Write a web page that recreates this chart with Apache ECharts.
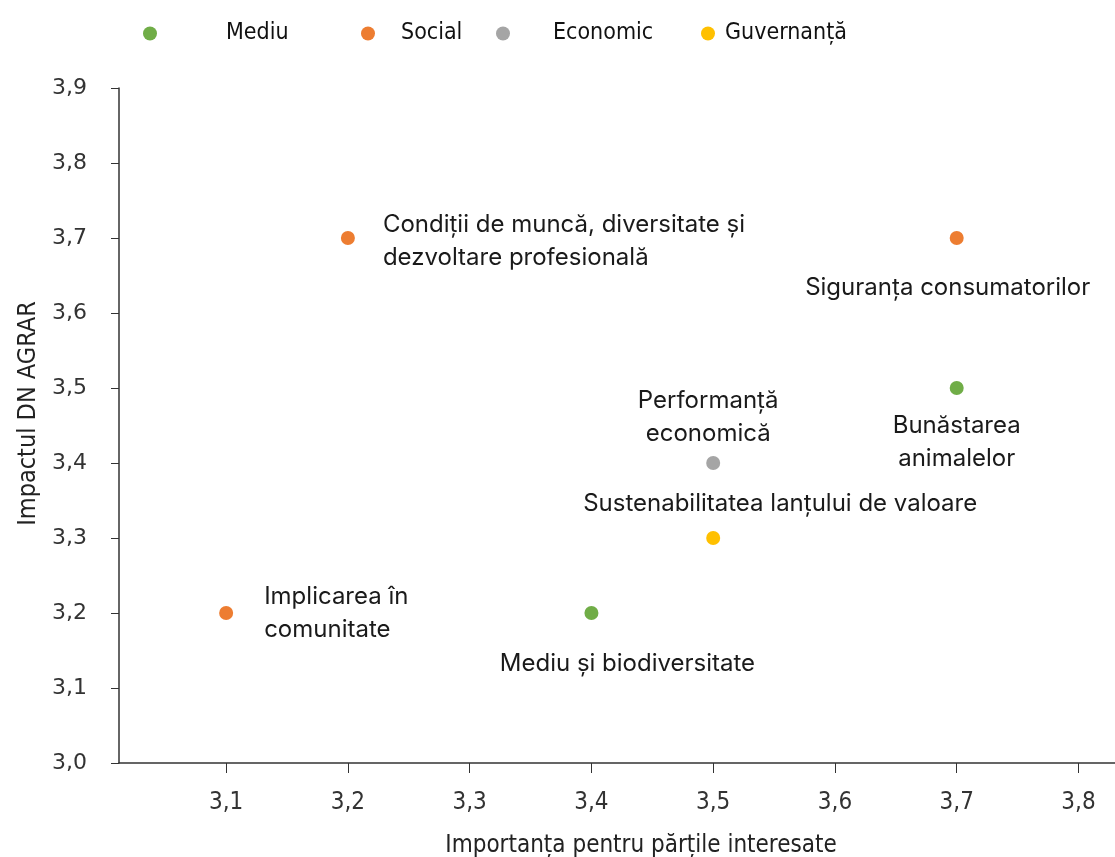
<!DOCTYPE html>
<html>
<head>
<meta charset="utf-8">
<script src="https://cdn.jsdelivr.net/npm/echarts@6/dist/echarts.min.js"></script>
<style>html,body{margin:0;padding:0;background:#fff}#c{width:1115px;height:857px}</style>
</head>
<body>
<div id="c"></div>
<script>
// ---- data ----
const seriesNames = ['Mediu', 'Social', 'Economic', 'Guvernanță'];
const mediuPoints = [[3.7, 3.5, 'Bunăstarea\nanimalelor'], [3.4, 3.2, 'Mediu și biodiversitate']];
const socialPoints = [[3.2, 3.7, 'Condiții de muncă, diversitate și\ndezvoltare profesională'], [3.7, 3.7, 'Siguranța consumatorilor'], [3.1, 3.2, 'Implicarea în\ncomunitate']];
const economicPoints = [[3.5, 3.4, 'Performanță\neconomică']];
const guvernantaPoints = [[3.5, 3.3, 'Sustenabilitatea lanțului de valoare']];
const xTicks = [3.1, 3.2, 3.3, 3.4, 3.5, 3.6, 3.7, 3.8];
const xTitle = 'Importanța pentru părțile interesate';
const yTitle = 'Impactul DN AGRAR';

// ---- styles ----
const colors = ['#70AD47', '#ED7D31', '#A5A5A5', '#FFC000'];
const labelFont = 'Inter, Roboto, sans-serif';
const narrowFont = '"DejaVu Sans Condensed", "Liberation Sans Narrow", sans-serif';
const labelLayout = {
  'Bunăstarea\nanimalelor': {position: 'bottom', distance: 14, offset: [0, 0], align: 'center'},
  'Mediu și biodiversitate': {position: 'bottom', distance: 27, offset: [36, 0], align: 'center'},
  'Condiții de muncă, diversitate și\ndezvoltare profesională': {position: 'right', distance: 28, offset: [0, 3], align: 'left'},
  'Siguranța consumatorilor': {position: 'bottom', distance: 26, offset: [-9, 0], align: 'center'},
  'Implicarea în\ncomunitate': {position: 'right', distance: 31, offset: [0, 0], align: 'left'},
  'Performanță\neconomică': {position: 'top', distance: 6, offset: [-5, 0], align: 'center'},
  'Sustenabilitatea lanțului de valoare': {position: 'top', distance: 11, offset: [67, 0], align: 'center'}
};
const allPoints = [mediuPoints, socialPoints, economicPoints, guvernantaPoints];

const series = seriesNames.map((name, i) => ({
  name: name,
  type: 'scatter',
  symbolSize: 14,
  itemStyle: {color: colors[i], opacity: 1},
  data: allPoints[i].map(p => ({
    value: [p[0], p[1]],
    label: Object.assign({
      show: true,
      formatter: p[2],
      color: '#1a1a1a',
      fontFamily: labelFont,
      fontSize: 24,
      lineHeight: 33
    }, labelLayout[p[2]])
  }))
}));

const legendLeft = [138, 356, 491, 696];
const legendPad = [64, 21, 38, 5];
const legends = seriesNames.map((name, i) => ({
  data: [name],
  left: legendLeft[i],
  top: 17,
  icon: 'circle',
  itemWidth: 14,
  itemHeight: 14,
  selectedMode: false,
  textStyle: {fontFamily: narrowFont, fontSize: 23, color: '#111', padding: [0, 0, 0, legendPad[i]]}
}));

const chart = echarts.init(document.getElementById('c'));
chart.setOption({
  animation: false,
  backgroundColor: '#fff',
  legend: legends,
  grid: {left: 119, right: 0, top: 88, bottom: 94, containLabel: false, outerBoundsMode: 'none'},
  xAxis: {
    type: 'value',
    min: 3.012,
    max: 3.83,
    name: xTitle,
    nameLocation: 'middle',
    nameGap: 71,
    nameTextStyle: {fontFamily: narrowFont, fontSize: 24, color: '#222', padding: [0, 0, 0, 48]},
    splitLine: {show: false},
    axisLine: {lineStyle: {color: '#333', width: 1.5}},
    axisTick: {show: true, customValues: xTicks, length: 10, lineStyle: {color: '#333'}},
    axisLabel: {customValues: xTicks, formatter: v => v.toFixed(1).replace('.', ','), fontFamily: narrowFont, fontSize: 24, color: '#333', margin: 28}
  },
  yAxis: {
    type: 'value',
    min: 3.0,
    max: 3.9,
    interval: 0.1,
    name: yTitle,
    nameLocation: 'middle',
    nameGap: 70,
    nameTextStyle: {fontFamily: narrowFont, fontSize: 25, color: '#222', padding: [0, 0, 0, 24]},
    splitLine: {show: false},
    axisLine: {show: true, lineStyle: {color: '#333', width: 1.5}},
    axisTick: {show: true, length: 8, lineStyle: {color: '#333'}},
    axisLabel: {formatter: v => v.toFixed(1).replace('.', ','), fontFamily: 'DejaVu Sans, sans-serif', fontSize: 22, color: '#333', margin: 32}
  },
  series: series
});
</script>
</body>
</html>
